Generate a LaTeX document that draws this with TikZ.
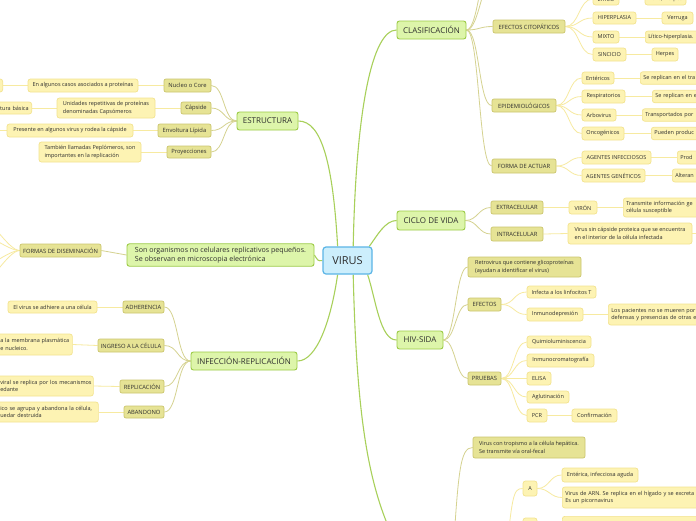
\documentclass[tikz,border=0pt]{standalone}
\usepackage{fontspec}
\setmainfont{Open Sans}
\usetikzlibrary{backgrounds}
\definecolor{cenF}{HTML}{CCEEFC}
\definecolor{cenB}{HTML}{5BB5E6}
\definecolor{topF}{HTML}{DDF5AA}
\definecolor{topB}{HTML}{9CCB45}
\definecolor{subF}{HTML}{E6E395}
\definecolor{subB}{HTML}{CBC66E}
\definecolor{leafF}{HTML}{FDF3B3}
\definecolor{leafB}{HTML}{F3E38F}
\definecolor{gL}{HTML}{A8D05A}
\definecolor{oL}{HTML}{D5D290}
\definecolor{yL}{HTML}{F7EAA0}
\definecolor{txt}{HTML}{2E2E2E}
\tikzset{
  central/.style={draw=cenB, fill=cenF, line width=1.2pt, rounded corners=3pt, minimum width=49pt, minimum height=27pt, font=\fontsize{11}{13}\selectfont, text=txt},
  topic/.style={draw=topB, fill=topF, line width=0.9pt, rounded corners=2.5pt, minimum height=18pt, inner xsep=3pt, font=\fontsize{8}{9.5}\selectfont, text=txt},
  sub/.style={draw=subB, fill=subF, line width=0.7pt, rounded corners=2pt, minimum height=13pt, inner xsep=2pt, inner ysep=1pt, font=\fontsize{5.8}{7.5}\selectfont, text=txt},
  leaf/.style={draw=leafB, fill=leafF, line width=0.7pt, rounded corners=2.5pt, minimum height=12.5pt, inner xsep=3pt, inner ysep=1pt, font=\fontsize{5.5}{7.5}\selectfont, text=txt, align=left},
  rleaf/.style={leaf, anchor=west, text width=160pt, align=left},
  gline/.style={draw=gL, line width=1.1pt},
  oline/.style={draw=oL, line width=0.8pt},
  yline/.style={draw=yL, line width=0.8pt},
  rgo/.style={out=0, in=180, distance=#1},
  rgo/.default=12pt,
  lgo/.style={out=180, in=0, distance=#1},
  lgo/.default=12pt,
}
\begin{document}
\begin{tikzpicture}[x=1pt, y=-1pt]
\useasboundingbox (0,0) rectangle (696,520);

% ---------- central and main topics
\node[central] (virus) at (347.5,260.5) {VIRUS};
\node[topic, minimum width=187pt, minimum height=20pt, align=left, font=\fontsize{7.1}{8.7}\selectfont] (desc) at (220.5,255) {Son organismos no celulares replicativos pequeños.\\Se observan en microscopia electrónica};
\node[topic, minimum width=61pt] (estr) at (267.5,121) {ESTRUCTURA};
\node[topic, minimum width=106pt] (infec) at (244,361) {INFECCIÓN-REPLICACIÓN};
\node[topic, minimum width=69pt] (clas) at (431.5,30) {CLASIFICACIÓN};
\node[topic, minimum width=68pt, minimum height=19pt] (ciclo) at (431,220.5) {CICLO DE VIDA};
\node[topic, minimum width=46pt] (hiv) at (420,340) {HIV-SIDA};
\coordinate (hepS) at (405,560);

% ---------- left: formas
\node[sub, minimum width=81pt] (formas) at (60.5,250.5) {FORMAS DE DISEMINACIÓN};
\coordinate (fl1) at (-25,212);
\coordinate (fl2) at (-25,232);
\coordinate (fl3) at (-25,270);
\coordinate (fl4) at (-25,290);

% ---------- estructura
\node[sub, minimum width=47pt] (nucleo) at (187.5,85.5) {Nucleo o Core};
\node[sub, minimum width=30pt, minimum height=12pt] (capside) at (196,108) {Cápside};
\node[sub, minimum width=53pt] (envol) at (184.5,130.5) {Envoltura Lípida};
\node[sub, minimum width=44pt, minimum height=12pt] (proy) at (189,152) {Proyecciones};
\node[leaf, minimum width=110pt, minimum height=13pt] (encasos) at (83,85.5) {En algunos casos asociados a proteínas};
\node[leaf, minimum width=30pt, minimum height=13pt, anchor=east] (nucleft) at (3,85.5) {};
\node[leaf, minimum width=98pt, minimum height=20pt] (unidades) at (106,108) {Unidades repetitivas de proteínas\\denominadas Capsómeros};
\node[leaf, anchor=east, text width=40pt, align=right, minimum height=12pt] (turab) at (32,108) {tura básica};
\node[leaf, minimum width=126pt, minimum height=13pt] (presente) at (70,130.5) {Presente en algunos virus y rodea la cápside};
\coordinate (presleft) at (-15,130.5);
\node[leaf, minimum width=102pt, minimum height=20pt] (tambien) at (90,152) {También llamadas Peplómeros, son\\importantes en la replicación};

% ---------- infeccion
\node[sub, minimum width=41pt, minimum height=12pt] (adher) at (143.5,307) {ADHERENCIA};
\node[sub, minimum width=66pt] (ingreso) at (131,345.5) {INGRESO A LA CÉLULA};
\node[sub, minimum width=44pt] (replic) at (142,386.5) {REPLICACIÓN};
\node[sub, minimum width=40pt, minimum height=12pt] (aband) at (144,412) {ABANDONO};
\node[leaf, minimum width=89pt, minimum height=12pt] (adhiere) at (52.5,307) {El virus se adhiere a una célula};
\node[leaf, anchor=west, text width=69pt, minimum height=21pt] (membrana) at (-3,344.5) {a la membrana plasmática\\e nucleico.};
\node[leaf, anchor=west, text width=90pt, minimum height=20pt] (viral) at (-3,386) {\mbox{viral se replica por los mecanismos}\\edante};
\node[leaf, anchor=west, text width=95pt, minimum height=20pt] (agrupa) at (-3,412) {\mbox{ico se agrupa y abandona la célula,}\\uedar destruida};

% ---------- clasificacion
\node[sub, minimum width=72pt] (efcit) at (529,26.5) {EFECTOS CITOPÁTICOS};
\node[sub, minimum width=64pt] (epid) at (524,105.5) {EPIDEMIOLÓGICOS};
\node[sub, minimum width=64pt, minimum height=14pt] (forma) at (524,166) {FORMA DE ACTUAR};
\coordinate (clasup1) at (495,-25);
\coordinate (clasup2) at (495,-55);
\node[leaf, minimum width=26pt, minimum height=12pt] (litico) at (606,-1) {LÍTICO};
\node[leaf, minimum width=43pt, minimum height=12pt] (hiper) at (614.5,18) {HIPERPLASIA};
\node[leaf, minimum width=26pt, minimum height=12pt] (mixto) at (606,37) {MIXTO};
\node[leaf, minimum width=33pt, minimum height=13pt] (sinc) at (609.5,54.5) {SINCICIO};
\node[leaf, minimum width=41pt, minimum height=12pt] (polio) at (665.5,-1) {Polio, Herpes};
\node[leaf, minimum width=31pt, minimum height=12pt] (verruga) at (677.5,18) {Verruga};
\node[rleaf, minimum height=12pt] (lhip) at (645,37) {Lítico-hiperplasia.};
\node[leaf, minimum width=26pt, minimum height=13pt] (herpes) at (665,54.5) {Herpes};
\node[leaf, minimum width=32pt, minimum height=12pt] (enter) at (598,78) {Entéricos};
\node[leaf, minimum width=43pt, minimum height=13pt] (resp) at (603.5,96.5) {Respiratorios};
\node[leaf, minimum width=34pt, minimum height=12pt] (arbo) at (599,115) {Arbovirus};
\node[leaf, minimum width=42pt, minimum height=13pt] (onco) at (603,133.5) {Oncogénicos};
\node[rleaf] (enterL) at (640,78) {Se replican en el tra};
\node[rleaf] (respL) at (652,96.5) {Se replican en el};
\node[rleaf] (arboL) at (642,115) {Transportados por};
\node[rleaf] (oncoL) at (651,133.5) {Pueden produc};
\node[leaf, minimum width=69pt, minimum height=13pt] (aginf) at (616.5,157.5) {AGENTES INFECCIOSOS};
\node[leaf, minimum width=63pt, minimum height=13pt] (aggen) at (613.5,175.5) {AGENTES GENÉTICOS};
\node[rleaf, minimum height=13pt] (prod) at (677,157.5) {Prod};
\node[rleaf, minimum height=13pt] (alter) at (672,175.5) {Alteran};

% ---------- ciclo de vida
\node[sub, minimum width=52pt] (extra) at (517,207.5) {EXTRACELULAR};
\node[sub, minimum width=52pt, minimum height=14pt] (intra) at (517,234) {INTRACELULAR};
\node[leaf, minimum width=28pt, minimum height=13pt] (viron) at (583,207.5) {VIRÓN};
\node[rleaf, minimum height=19pt] (transm) at (623,207.5) {Transmite información ge\\célula susceptible};
\node[leaf, minimum width=124pt, minimum height=21pt] (virsin) at (630,233.5) {Virus sin cápside proteica que se encuentra\\en el interior de la célula infectada};
\coordinate (virsinR) at (715,233.5);

% ---------- HIV-SIDA
\node[sub, minimum width=113pt, minimum height=20pt, align=left, font=\fontsize{5.5}{7.5}\selectfont] (retro) at (524.5,267) {Retrovirus que contiene glicoproteínas\\(ayudan a identificar el virus)};
\node[sub, minimum width=33pt] (efectos) at (484.5,304.5) {EFECTOS};
\node[sub, minimum width=33pt] (pruebas) at (484.5,378.5) {PRUEBAS};
\node[leaf, minimum width=69pt, minimum height=12pt] (infecta) at (561.5,292) {Infecta a los linfocitos T};
\node[leaf, minimum width=56pt, minimum height=13pt] (inmuno) at (555,314.5) {Inmunodepresión};
\node[rleaf, minimum height=21pt] (pacientes) at (608,314.5) {Los pacientes no se mueren por\\defensas y presencias de otras e};
\node[leaf, minimum width=64pt, minimum height=12pt] (quimio) at (559,342) {Quimioluminiscencia};
\node[leaf, minimum width=67pt, minimum height=13pt] (inmcr) at (560.5,360.5) {Inmunocromatografía};
\node[leaf, minimum width=24pt, minimum height=13pt] (elisa) at (539,378.5) {ELISA};
\node[leaf, minimum width=42pt, minimum height=12pt] (aglut) at (548,397) {Aglutinación};
\node[leaf, minimum width=20pt, minimum height=13pt] (pcr) at (537,415.5) {PCR};
\node[leaf, minimum width=45pt, minimum height=13pt] (confirm) at (594.5,415.5) {Confirmación};

% ---------- bottom (partly off page)
\node[sub, minimum width=112pt, minimum height=21pt, align=left, font=\fontsize{5.5}{7.5}\selectfont] (tropismo) at (529,447.5) {Virus con tropismo a la célula hepática.\\Se transmite vía oral-fecal};
\coordinate (hepR) at (452,575);
\coordinate (tiposR) at (505,570);
\node[leaf, minimum width=14pt, minimum height=15pt] (A) at (530,488.5) {A};
\node[leaf, minimum width=76pt, minimum height=14pt] (enterica) at (600,475) {Entérica, infecciosa aguda};
\node[rleaf, minimum height=21pt] (virarn) at (562,497.5) {Virus de ARN. Se replica en el hígado y se excreta\\Es un picornavirus};
\node[leaf, minimum width=14pt, minimum height=15pt] (B) at (530,525.5) {};
\node[leaf, anchor=north west, minimum width=150pt, minimum height=21pt] (Bleaf) at (562,516) {};

% ---------- connectors
\begin{scope}[on background layer]
\fill[white] (0,0) rectangle (696,520);
% green
\draw[gline] (virus.125) .. controls (333,165) and (322,121) .. (estr.east);
\draw[gline] (virus.68) .. controls (356,110) and (372,30) .. (clas.west);
\draw[gline] (virus.33) .. controls (377,236) and (385,220.5) .. (ciclo.west);
\draw[gline] (virus.235) .. controls (331,320) and (317,361) .. (infec.east);
\draw[gline] (virus.292) .. controls (357,430) and (370,500) .. (hepS);
\draw[gline] (virus.325) .. controls (376,300) and (380,340) .. (hiv.west);
\draw[gline] (virus.west) .. controls (318,261) .. (desc.east);
% olive: topic -> sub
\draw[oline] (desc.west) -- (formas.east);
\foreach \n in {nucleo,capside,envol,proy} \draw[oline] (estr.west) to[lgo=13pt] (\n.east);
\foreach \n in {adher,ingreso,replic,aband} \draw[oline] (infec.west) to[lgo=14pt] (\n.east);
\foreach \n in {efcit,epid,forma} \draw[oline] (clas.east) to[rgo=13pt] (\n.west);
\draw[oline] (clas.east) to[rgo=13pt] (clasup1);
\draw[oline] (clas.east) to[rgo=13pt] (clasup2);
\foreach \n in {extra,intra} \draw[oline] (ciclo.east) to[rgo=12pt] (\n.west);
\foreach \n in {retro,efectos,pruebas} \draw[oline] (hiv.east) to[rgo=12pt] (\n.west);
\draw[oline] (hepR) .. controls (458,470) and (460,447.5) .. (tropismo.west);
% yellow: sub -> leaf
\foreach \c in {fl1,fl2,fl3,fl4} \draw[yline] (formas.west) to[lgo=12pt] (\c);
\draw[yline] (nucleo.west) -- (encasos.east);
\draw[yline] (encasos.west) -- (nucleft.east);
\draw[yline] (capside.west) -- (unidades.east);
\draw[yline] (unidades.west) -- (turab.east);
\draw[yline] (envol.west) -- (presente.east);
\draw[yline] (presente.west) -- (presleft);
\draw[yline] (proy.west) -- (tambien.east);
\draw[yline] (adher.west) -- (adhiere.east);
\draw[yline] (ingreso.west) -- (membrana.east);
\draw[yline] (replic.west) -- (viral.east);
\draw[yline] (aband.west) -- (agrupa.east);
\foreach \n in {litico,hiper,mixto,sinc} \draw[yline] (efcit.east) to[rgo=14pt] (\n.west);
\draw[yline] (litico.east) -- (polio.west);
\draw[yline] (hiper.east) -- (verruga.west);
\draw[yline] (mixto.east) -- (lhip.west);
\draw[yline] (sinc.east) -- (herpes.west);
\foreach \n in {enter,resp,arbo,onco} \draw[yline] (epid.east) to[rgo=13pt] (\n.west);
\draw[yline] (enter.east) -- (enterL.west);
\draw[yline] (resp.east) -- (respL.west);
\draw[yline] (arbo.east) -- (arboL.west);
\draw[yline] (onco.east) -- (oncoL.west);
\foreach \n in {aginf,aggen} \draw[yline] (forma.east) to[rgo=13pt] (\n.west);
\draw[yline] (aginf.east) -- (prod.west);
\draw[yline] (aggen.east) -- (alter.west);
\draw[yline] (extra.east) -- (viron.west);
\draw[yline] (viron.east) -- (transm.west);
\draw[yline] (intra.east) -- (virsin.west);
\draw[yline] (virsin.east) -- (virsinR);
\foreach \n in {infecta,inmuno} \draw[yline] (efectos.east) to[rgo=13pt] (\n.west);
\draw[yline] (inmuno.east) -- (pacientes.west);
\foreach \n in {quimio,inmcr,elisa,aglut,pcr} \draw[yline] (pruebas.east) to[rgo=13pt] (\n.west);
\draw[yline] (pcr.east) -- (confirm.west);
\draw[yline] (tiposR) .. controls (512,495) and (513,488.5) .. (A.west);
\draw[yline] (tiposR) .. controls (512,535) and (513,525.5) .. (B.west);
\foreach \n in {enterica,virarn} \draw[yline] (A.east) to[rgo=12pt] (\n.west);
\draw[yline] (B.east) -- (Bleaf.west);
\end{scope}
\end{tikzpicture}
\end{document}
